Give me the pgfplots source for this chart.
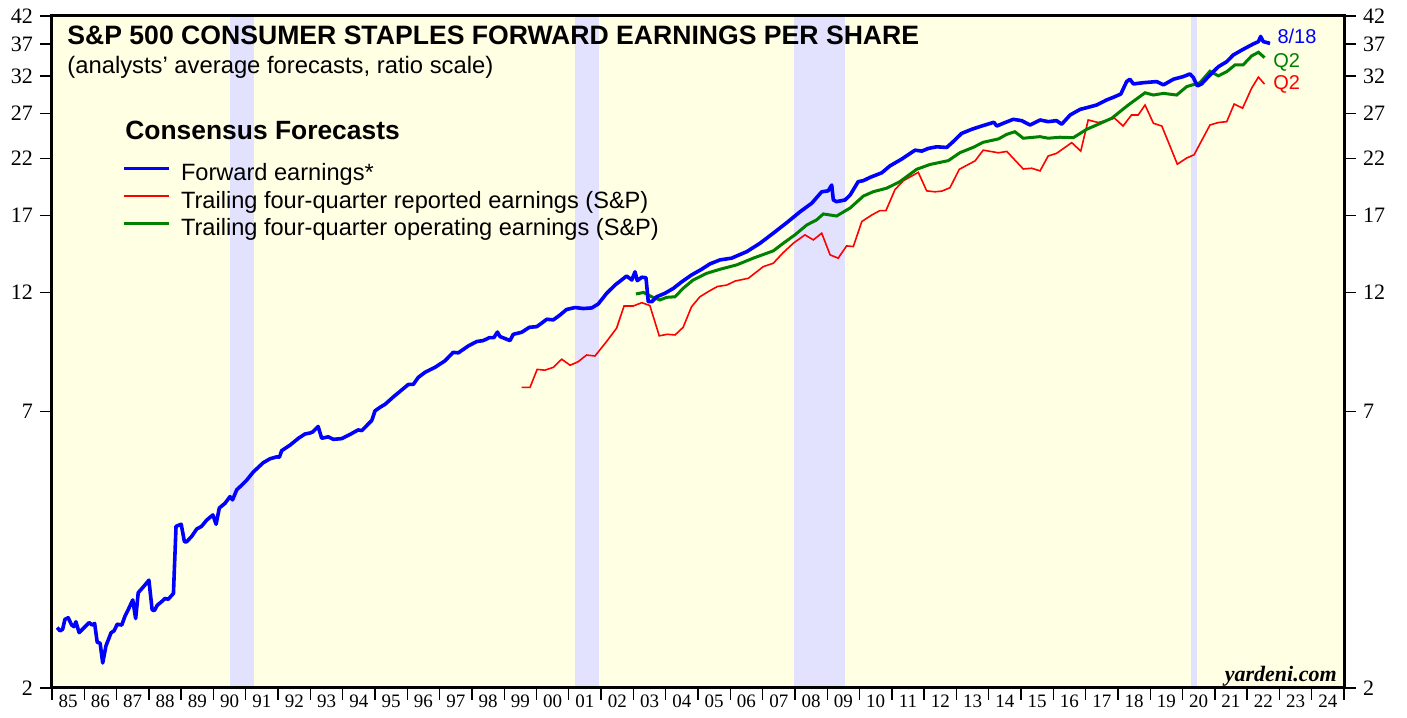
\documentclass[border=0pt]{standalone}
\usepackage{fontspec}
\setmainfont{Liberation Sans}
\newfontfamily\serif{Liberation Serif}
\usepackage{pgfplots}
\pgfplotsset{compat=1.18}
\definecolor{bgy}{RGB}{255,255,228}
\definecolor{band}{RGB}{226,226,255}
\definecolor{fgreen}{RGB}{0,128,0}
\begin{document}
\begin{tikzpicture}
\useasboundingbox (-26pt,-14.5pt) rectangle (677.5pt,344pt);
\begin{axis}[
  at={(0pt,0pt)}, anchor=south west,
  scale only axis, width=646pt, height=336pt,
  xmin=1985, xmax=2025, ymode=log, ymin=2, ymax=42,
  axis background/.style={fill=bgy},
  axis on top=true,
  axis line style={line width=1.5pt},
  tick align=outside, major tick length=6pt,
  tick style={black, line width=0.7pt},
  xtick pos=left, ytick pos=left,
  xtick={1985,1986,...,2025}, xticklabels={},
  extra x ticks={1985.5,1986.5,1987.5,1988.5,1989.5,1990.5,1991.5,1992.5,1993.5,1994.5,1995.5,1996.5,1997.5,1998.5,1999.5,2000.5,2001.5,2002.5,2003.5,2004.5,2005.5,2006.5,2007.5,2008.5,2009.5,2010.5,2011.5,2012.5,2013.5,2014.5,2015.5,2016.5,2017.5,2018.5,2019.5,2020.5,2021.5,2022.5,2023.5,2024.5},
  extra x tick labels={85,86,87,88,89,90,91,92,93,94,95,96,97,98,99,00,01,02,03,04,05,06,07,08,09,10,11,12,13,14,15,16,17,18,19,20,21,22,23,24},
  extra x tick style={major tick length=0pt},
  xticklabel style={font=\serif\fontsize{9.5}{10}\selectfont},
  ytick={2,7,12,17,22,27,32,37,42},
  yticklabels={2,7,12,17,22,27,32,37,42},
  yticklabel style={font=\serif\fontsize{11}{12}\selectfont},
  legend style={at={(axis description cs:0.0545,0.781)}, anchor=north west, draw=none, fill=none,
    font=\fontsize{11.8}{13.75}\selectfont, inner sep=0pt, row sep=2.75pt, column sep=5pt,
    nodes={inner sep=0pt, text height=8.5pt, text depth=2.5pt}},
  legend cell align=left,
  legend image code/.code={\draw[#1] (0pt,3.2pt) -- (22.5pt,3.2pt);},
]
% recession bands
\addplot[fill=band, draw=none, forget plot] coordinates {(1990.51,2) (1991.25,2) (1991.25,42) (1990.51,42)} -- cycle;
\addplot[fill=band, draw=none, forget plot] coordinates {(2001.19,2) (2001.93,2) (2001.93,42) (2001.19,42)} -- cycle;
\addplot[fill=band, draw=none, forget plot] coordinates {(2007.97,2) (2009.55,2) (2009.55,42) (2007.97,42)} -- cycle;
\addplot[fill=band, draw=none, forget plot] coordinates {(2020.26,2) (2020.45,2) (2020.45,42) (2020.26,42)} -- cycle;

% trailing reported (red)
\addplot[red, line width=0.8pt, forget plot] coordinates {
(1999.54,7.81) (1999.80,7.81) (2000.02,8.47) (2000.26,8.44) (2000.52,8.55) (2000.78,8.87) (2001.04,8.63) (2001.29,8.77) (2001.55,9.04) (2001.81,9.00) (2002.17,9.61) (2002.48,10.21) (2002.71,11.29) (2003.00,11.29) (2003.26,11.46) (2003.51,11.31) (2003.80,9.86) (2004.05,9.93) (2004.29,9.90) (2004.54,10.25) (2004.80,11.25) (2005.06,11.77) (2005.32,12.05) (2005.60,12.33) (2005.89,12.41) (2006.15,12.64) (2006.56,12.80) (2007.02,13.49) (2007.33,13.70) (2007.64,14.38) (2007.95,15.00) (2008.31,15.58) (2008.57,15.23) (2008.83,15.70) (2009.09,14.23) (2009.34,14.02) (2009.60,14.82) (2009.81,14.78) (2010.07,16.55) (2010.38,17.05) (2010.63,17.39) (2010.82,17.39) (2011.10,19.14) (2011.36,19.92) (2011.82,20.68) (2012.08,19.02) (2012.34,18.94) (2012.55,19.00) (2012.80,19.29) (2013.09,20.97) (2013.58,21.79) (2013.83,22.87) (2014.30,22.60) (2014.56,22.74) (2015.07,21.00) (2015.33,21.07) (2015.59,20.82) (2015.84,22.27) (2016.10,22.54) (2016.57,23.66) (2016.85,22.77) (2017.08,26.22) (2017.39,25.92) (2017.90,26.43) (2018.16,25.51) (2018.42,26.82) (2018.63,26.82) (2018.84,28.06) (2019.10,25.83) (2019.36,25.51) (2019.84,21.46) (2020.13,22.07) (2020.36,22.40) (2020.85,25.63) (2021.11,25.92) (2021.37,26.02) (2021.60,28.19) (2021.86,27.66) (2022.14,30.28) (2022.35,31.84) (2022.54,30.85)
};
% trailing operating (green)
\addplot[fgreen, line width=1.5pt, forget plot] coordinates {
(2003.08,11.92) (2003.31,12.0) (2003.57,11.77) (2003.82,11.60) (2004.03,11.74) (2004.29,11.77) (2004.54,12.23) (2004.85,12.70) (2005.27,13.09) (2005.68,13.33) (2006.20,13.60) (2006.71,14.02) (2007.33,14.49) (2007.64,15.00) (2008.00,15.58) (2008.37,16.30) (2008.67,16.67) (2008.88,17.13) (2009.29,16.97) (2009.71,17.60) (2010.12,18.58) (2010.43,18.95) (2010.84,19.25) (2011.25,19.83) (2011.77,20.97) (2012.18,21.43) (2012.75,21.81) (2013.11,22.61) (2013.52,23.16) (2013.83,23.70) (2014.30,24.06) (2014.56,24.57) (2014.81,24.86) (2015.07,24.14) (2015.59,24.31) (2015.84,24.14) (2016.21,24.25) (2016.62,24.20) (2017.03,25.13) (2017.34,25.63) (2017.81,26.43) (2018.32,28.06) (2018.84,29.66) (2019.10,29.36) (2019.41,29.58) (2019.82,29.36) (2020.13,30.50) (2020.54,31.05) (2020.85,32.70) (2021.11,32.02) (2021.37,32.64) (2021.63,33.67) (2021.88,33.67) (2022.14,35.05) (2022.35,35.64) (2022.54,34.78)
};
% forward (blue)
\addplot[blue, line width=1.8pt, line join=round, forget plot] coordinates {
(1985.16,2.63) (1985.25,2.59) (1985.33,2.61) (1985.40,2.73) (1985.50,2.75) (1985.61,2.66) (1985.68,2.64) (1985.74,2.70) (1985.84,2.57) (1985.97,2.62) (1986.15,2.69) (1986.24,2.66) (1986.32,2.68) (1986.40,2.46) (1986.49,2.45) (1986.57,2.24) (1986.67,2.42) (1986.83,2.57) (1986.92,2.59) (1987.02,2.67) (1987.16,2.66) (1987.26,2.77) (1987.38,2.87) (1987.50,2.98) (1987.59,2.74) (1987.67,3.08) (1987.88,3.19) (1988.00,3.26) (1988.10,2.85) (1988.17,2.84) (1988.26,2.91) (1988.40,2.96) (1988.50,3.00) (1988.60,2.99) (1988.76,3.07) (1988.84,4.16) (1989.00,4.20) (1989.10,3.88) (1989.17,3.88) (1989.33,3.98) (1989.48,4.11) (1989.63,4.16) (1989.79,4.28) (1989.98,4.38) (1990.08,4.20) (1990.18,4.52) (1990.36,4.62) (1990.51,4.76) (1990.59,4.69) (1990.72,4.91) (1990.87,5.01) (1991.03,5.13) (1991.23,5.32) (1991.54,5.55) (1991.75,5.65) (1991.96,5.70) (1992.04,5.69) (1992.11,5.86) (1992.37,6.01) (1992.63,6.20) (1992.83,6.32) (1992.99,6.35) (1993.07,6.38) (1993.24,6.54) (1993.35,6.20) (1993.55,6.24) (1993.71,6.17) (1993.97,6.19) (1994.23,6.31) (1994.48,6.44) (1994.59,6.42) (1994.90,6.72) (1995.00,7.02) (1995.15,7.13) (1995.31,7.23) (1995.57,7.48) (1996.03,7.91) (1996.19,7.92) (1996.34,8.17) (1996.55,8.36) (1996.86,8.55) (1997.17,8.81) (1997.42,9.15) (1997.58,9.13) (1997.89,9.42) (1998.15,9.61) (1998.35,9.65) (1998.54,9.78) (1998.68,9.78) (1998.79,10.03) (1998.87,9.83) (1999.18,9.65) (1999.28,9.93) (1999.54,10.02) (1999.78,10.25) (2000.01,10.28) (2000.32,10.63) (2000.52,10.60) (2000.73,10.84) (2000.93,11.11) (2001.19,11.21) (2001.45,11.16) (2001.71,11.19) (2001.91,11.39) (2002.17,11.95) (2002.43,12.41) (2002.79,12.93) (2002.95,12.70) (2003.05,13.18) (2003.12,12.66) (2003.26,12.86) (2003.39,12.83) (2003.46,11.51) (2003.57,11.51) (2003.72,11.77) (2003.98,11.96) (2004.24,12.23) (2004.50,12.60) (2004.80,12.99) (2005.11,13.33) (2005.37,13.66) (2005.68,13.91) (2006.04,14.02) (2006.51,14.44) (2006.92,15.00) (2007.33,15.70) (2007.75,16.47) (2008.16,17.30) (2008.52,17.98) (2008.83,18.94) (2009.03,19.02) (2009.14,19.53) (2009.19,18.25) (2009.29,18.11) (2009.55,18.25) (2009.71,18.66) (2009.96,19.83) (2010.12,19.92) (2010.33,20.22) (2010.69,20.64) (2010.94,21.29) (2011.31,21.97) (2011.72,22.87) (2011.93,22.77) (2012.13,23.05) (2012.39,23.22) (2012.70,23.15) (2012.90,23.77) (2013.16,24.67) (2013.47,25.13) (2013.78,25.51) (2013.99,25.75) (2014.16,25.95) (2014.25,25.51) (2014.45,25.83) (2014.76,26.30) (2015.02,26.14) (2015.28,25.63) (2015.59,26.22) (2015.84,26.02) (2016.10,26.14) (2016.26,25.72) (2016.52,26.82) (2016.83,27.51) (2017.08,27.77) (2017.34,28.06) (2017.65,28.71) (2017.86,29.06) (2018.09,29.49) (2018.27,31.20) (2018.37,31.54) (2018.48,30.87) (2018.79,31.05) (2019.20,31.20) (2019.41,30.74) (2019.72,31.54) (2020.02,31.91) (2020.23,32.30) (2020.33,31.82) (2020.46,30.60) (2020.59,30.87) (2020.85,32.15) (2021.11,33.38) (2021.37,34.15) (2021.57,35.20) (2021.88,36.12) (2022.19,37.0) (2022.35,37.4) (2022.42,38.29) (2022.50,37.4) (2022.71,37.1)
};

\addlegendimage{blue, line width=1.6pt}
\addlegendentry{Forward earnings*}
\addlegendimage{red, line width=1.1pt}
\addlegendentry{Trailing four-quarter reported earnings (S\&P)}
\addlegendimage{fgreen, line width=1.6pt}
\addlegendentry{Trailing four-quarter operating earnings (S\&P)}

\node[anchor=base west, inner sep=0pt, font=\bfseries\fontsize{13.3}{15}\selectfont] at (axis description cs:0.0116,0.957) {S\&P 500 CONSUMER STAPLES FORWARD EARNINGS PER SHARE};
\node[anchor=base west, inner sep=0pt, font=\fontsize{11.9}{14}\selectfont] at (axis description cs:0.0116,0.915) {(analysts’ average forecasts, ratio scale)};
\node[anchor=base west, inner sep=0pt, font=\bfseries\fontsize{13.2}{15}\selectfont] at (axis description cs:0.0565,0.8155) {Consensus Forecasts};
\node[anchor=west, inner sep=0pt, text=blue, font=\fontsize{10}{12}\selectfont] at (axis cs:2022.93,38.3) {8/18};
\node[anchor=west, inner sep=0pt, text=fgreen, font=\fontsize{10}{12}\selectfont] at (axis cs:2022.80,34.0) {Q2};
\node[anchor=west, inner sep=0pt, text=red, font=\fontsize{10}{12}\selectfont] at (axis cs:2022.80,30.8) {Q2};
\node[anchor=base east, inner sep=0pt, font=\serif\bfseries\itshape\fontsize{11}{12}\selectfont] at (axis description cs:0.9946,0.0104) {yardeni.com};
\end{axis}
\begin{axis}[
  at={(0pt,0pt)}, anchor=south west,
  scale only axis, width=646pt, height=336pt,
  xmin=1985, xmax=2025, ymode=log, ymin=2, ymax=42,
  axis x line=none, axis y line*=right,
  axis line style={line width=1.5pt},
  tick align=outside, major tick length=6pt,
  tick style={black, line width=0.7pt},
  ytick={2,7,12,17,22,27,32,37,42},
  yticklabels={2,7,12,17,22,27,32,37,42},
  yticklabel style={font=\serif\fontsize{11}{12}\selectfont},
]
\end{axis}
\end{tikzpicture}
\end{document}
